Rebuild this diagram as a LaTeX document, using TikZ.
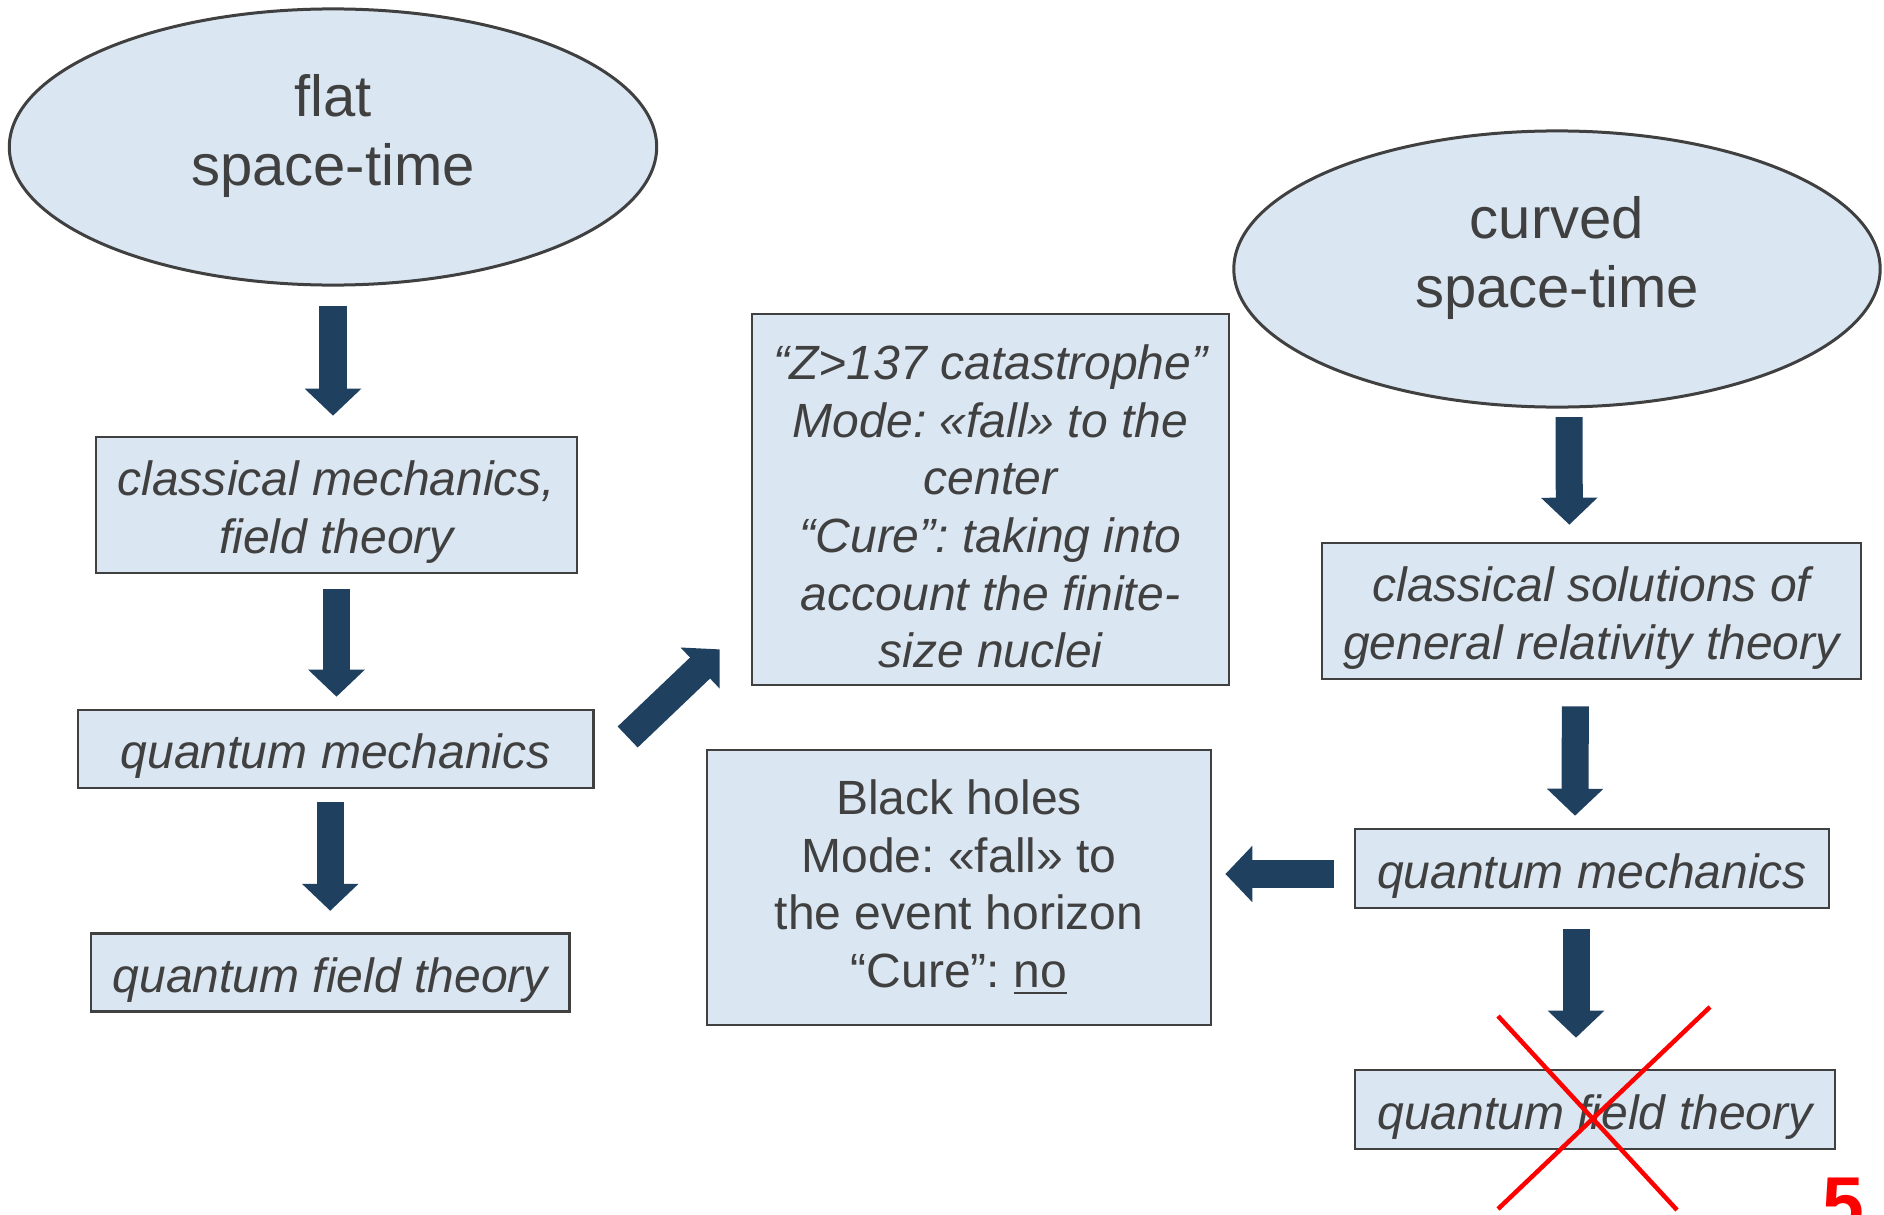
\documentclass[tikz,border=0pt]{standalone}
\usepackage{fontspec}
\setmainfont{Liberation Sans}
\usetikzlibrary{arrows.meta,shapes.geometric,calc}

\definecolor{boxfill}{HTML}{DAE6F1}
\definecolor{boxline}{HTML}{404040}
\definecolor{txtgray}{HTML}{404040}
\definecolor{arrowblue}{HTML}{204060}
\newcommand{\padtop}{\rule{0pt}{0.49cm}}
\frenchspacing

\tikzset{
	blob/.style={ellipse, draw=boxline, fill=boxfill, line width=0.03cm, inner sep=0pt, text=txtgray, align=center, font=\fontsize{16.5pt}{19.8pt}\selectfont},
	box/.style={rectangle, draw=boxline, fill=boxfill, line width=0.025cm, inner sep=0pt, text=txtgray, align=center, font=\fontsize{13.66pt}{16.4pt}\selectfont},
	itbox/.style={box, font=\fontsize{13.66pt}{16.4pt}\selectfont\itshape},
	bigarrow/.style={draw=arrowblue, line width=0.27cm, -{Triangle[width=0.55cm,length=0.27cm]}},
	cross/.style={draw=red, line width=0.045cm}
}

\begin{document}
\begin{tikzpicture}[x=0.01cm, y=-0.01cm]
	\useasboundingbox (0,0) rectangle (1884,1215);
	\clip (0,0) rectangle (1884,1215);
	% flat space-time column
	\node[blob, minimum width=6.47cm, minimum height=2.76cm, text depth=0.34cm] (flat) at (333,147) {flat\\space-time};
	\node[itbox, minimum width=4.81cm, minimum height=1.36cm] (clmech) at (336.5,505) {\padtop classical mechanics,\\field theory};
	\node[itbox, minimum width=5.15cm, minimum height=0.78cm] (qml) at (335.75,749) {\padtop quantum mechanics};
	\node[itbox, minimum width=4.78cm, minimum height=0.78cm] (qftl) at (330.25,972.6) {\padtop quantum field theory};
	\draw[bigarrow, shorten <=0.195cm, shorten >=0.2cm] (flat.south) -- (flat.south |- clmech.north);
	\draw[bigarrow, shorten <=0.145cm, shorten >=0.12cm] (clmech.south) -- (clmech.south |- qml.north);
	\draw[bigarrow, shorten <=0.13cm, shorten >=0.215cm] (qftl.north |- qml.south) -- (qftl.north);
	% the two "fall" boxes
	\node[itbox, minimum width=4.77cm, minimum height=3.71cm] (zbox) at (990.5,499.5) {\padtop “Z>137 catastrophe”\\Mode: «fall» to the\\center\\“Cure”: taking into\\account the finite-\\size nuclei};
	\node[box, minimum width=5.04cm, minimum height=2.75cm] (bhole) at (959,887.5) {Black holes\\Mode: «fall» to\\the event horizon\\“Cure”: \underline{no}};
	\draw[bigarrow, line width=0.29cm] ($(qml.east)+(33,-12)$) -- ($(zbox.south west)+(-31,-37)$);
	% curved space-time column
	\node[blob, minimum width=6.46cm, minimum height=2.76cm, text depth=0.34cm] (curved) at (1557,269) {curved\\space-time};
	\node[itbox, minimum width=5.39cm, minimum height=1.36cm] (grsol) at (1591.4,611) {\padtop classical solutions of\\general relativity theory};
	\node[itbox, minimum width=4.74cm, minimum height=0.79cm] (qmr) at (1592,868.5) {\padtop quantum mechanics};
	\node[itbox, minimum width=4.8cm, minimum height=0.79cm] (qftr) at (1595,1109.5) {\padtop quantum field theory};
	\draw[bigarrow, shorten <=0.085cm, shorten >=0.17cm] ($(curved.south)+(12,0)$) -- ($(grsol.north)+(-22,0)$);
	\draw[bigarrow, shorten <=0.26cm, shorten >=0.12cm] ($(grsol.south)+(-16,0)$) -- ($(qmr.north)+(-17,0)$);
	\draw[bigarrow, shorten <=0.195cm, shorten >=0.31cm] ($(qmr.south)+(-16,0)$) -- ($(qftr.north)+(-19,0)$);
	\draw[bigarrow, shorten <=0.2cm, shorten >=0.13cm] ($(qmr.west)+(0,5.5)$) -- ($(bhole.east)+(0,-13.5)$);
	% crossed out
	\draw[cross] (1498,1016) -- (1677,1210);
	\draw[cross] (1710,1007) -- (1498,1209);
	\node[anchor=north east, inner sep=0pt, text=red, font=\fontsize{21.3pt}{21.3pt}\selectfont\bfseries] (pagenum) at (1865,1177) {5};
\end{tikzpicture}
\end{document}
